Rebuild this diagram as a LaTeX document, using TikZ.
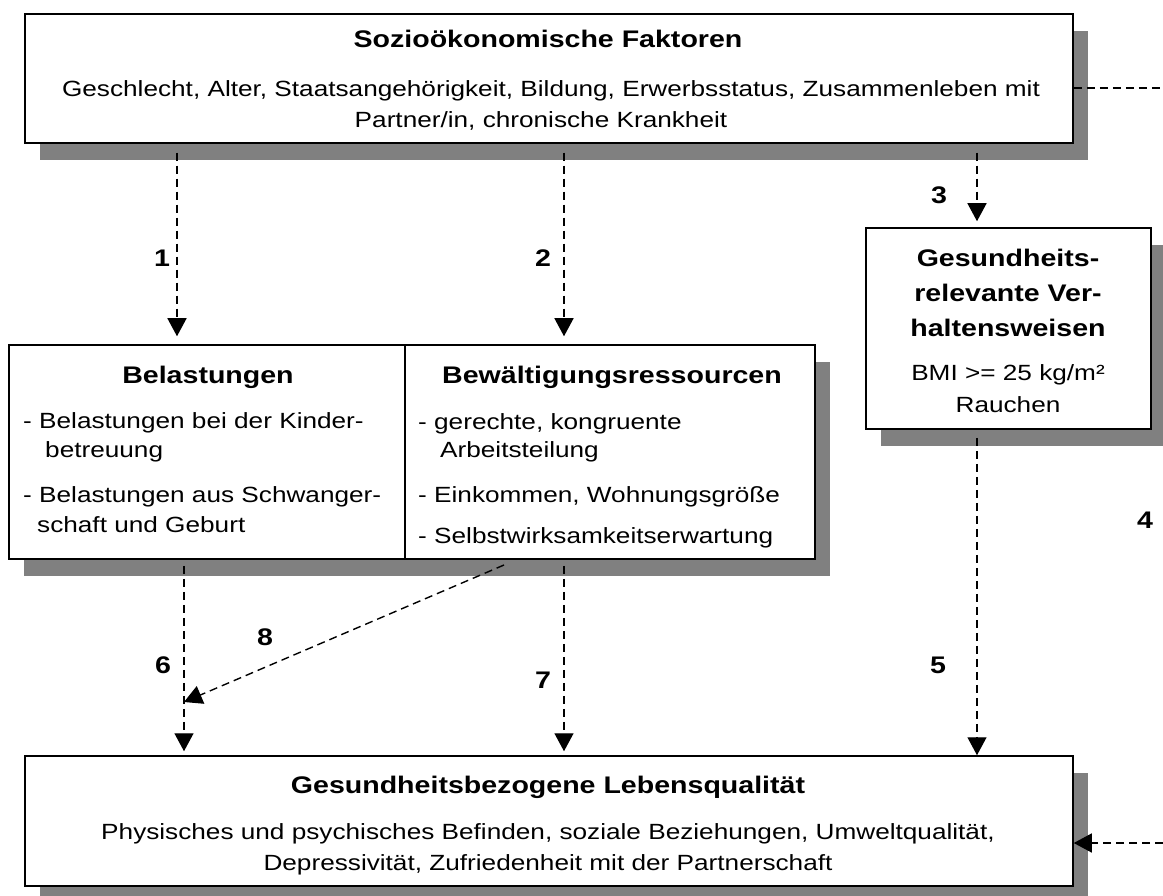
\documentclass[tikz,border=0pt]{standalone}
\usepackage{fontspec}
\setmainfont{Liberation Sans}[FakeStretch=1.19]
\usetikzlibrary{arrows.meta,shadows}
\definecolor{shgray}{RGB}{128,128,128}
\begin{document}
\begin{tikzpicture}[x=1pt,y=-1pt,
  box/.style={draw=black,line width=1.5pt,fill=white,inner sep=0pt,
    drop shadow={shadow xshift=15pt,shadow yshift=-17pt,fill=shgray,opacity=1}},
  body/.style={font=\fontsize{22}{26}\selectfont,inner sep=0pt,anchor=base},
  bodyl/.style={body,anchor=base west},
  ttl/.style={font=\fontsize{24}{28}\selectfont\bfseries,inner sep=0pt,anchor=base},
  num/.style={font=\fontsize{24}{28}\selectfont\bfseries,inner sep=0pt},
  link/.style={draw=black,line width=1.4pt,dash pattern=on 8pt off 5pt},
  arr/.style={link,-{Triangle[length=18pt,width=19pt]}},
]
\useasboundingbox (0,0) rectangle (1163,896);

% top box
\node[box,minimum width=1048pt,minimum height=129pt] (soz) at (549,78.5) {};
\node[ttl] (sozT) at (548,48) {Sozioökonomische Faktoren};
\node[body] (sozA) at (551,97) {Geschlecht, Alter, Staatsangehörigkeit, Bildung, Erwerbsstatus, Zusammenleben mit};
\node[body] (sozB) at (541,128) {Partner/in, chronische Krankheit};

% Belastungen
\node[box,minimum width=396pt,minimum height=214pt] (bel) at (207,452) {};
\node[ttl] (belT) at (208,383) {Belastungen};
\node[bodyl] (belA) at (23,428) {- Belastungen bei der Kinder-};
\node[bodyl] (belB) at (45,457) {betreuung};
\node[bodyl] (belC) at (23,502) {- Belastungen aus Schwanger-};
\node[bodyl] (belD) at (37,532) {schaft und Geburt};

% Bewaeltigungsressourcen
\node[box,minimum width=410pt,minimum height=214pt] (bew) at (610,452) {};
\node[ttl] (bewT) at (612,383) {Bewältigungsressourcen};
\node[bodyl] (bewA) at (418,429) {- gerechte, kongruente};
\node[bodyl] (bewB) at (440,457) {Arbeitsteilung};
\node[bodyl] (bewC) at (418,502) {- Einkommen, Wohnungsgröße};
\node[bodyl] (bewD) at (418,543) {- Selbstwirksamkeitserwartung};

% Gesundheitsrelevante Verhaltensweisen
\node[box,minimum width=285pt,minimum height=201pt] (ges) at (1008.5,328.5) {};
\node[ttl] (gesT1) at (1008,267) {Gesundheits-};
\node[ttl] (gesT2) at (1008,302) {relevante Ver-};
\node[ttl] (gesT3) at (1008,337) {haltensweisen};
\node[body] (gesA) at (1008,380) {BMI >= 25 kg/m²};
\node[body] (gesB) at (1008,412) {Rauchen};

% Lebensqualitaet
\node[box,minimum width=1048pt,minimum height=130pt] (lq) at (549,821) {};
\node[ttl] (lqT) at (548,793) {Gesundheitsbezogene Lebensqualität};
\node[body] (lqA) at (548,839) {Physisches und psychisches Befinden, soziale Beziehungen, Umweltqualität,};
\node[body] (lqB) at (548,870) {Depressivität, Zufriedenheit mit der Partnerschaft};

% connector columns
\coordinate (c1) at (177,0);
\coordinate (c2) at (564,0);
\coordinate (c3) at (977,0);
\coordinate (c6) at (184,0);
\coordinate (s8) at (504,565);
\coordinate (e8) at (184,702);
\coordinate (r4a) at (1163,88);
\coordinate (r4b) at (1163,843);

\draw[arr,shorten <=9pt,shorten >=8pt] (soz.south -| c1) -- (bel.north -| c1);
\draw[arr,shorten <=9pt,shorten >=8pt] (soz.south -| c2) -- (bew.north -| c2);
\draw[arr,shorten <=9pt,shorten >=6pt] (soz.south -| c3) -- (ges.north -| c3);
\draw[arr,shorten <=8pt] (ges.south -| c3) -- (lq.north -| c3);
\draw[arr,shorten <=6pt,shorten >=4pt] (bel.south -| c6) -- (lq.north -| c6);
\draw[arr,shorten <=6pt,shorten >=4pt] (bew.south -| c2) -- (lq.north -| c2);
\draw[arr] (s8) -- (e8);
\draw[link] (soz.east |- r4a) -- (r4a);
\draw[arr] (r4b) -- (lq.east |- r4b);

% labels
\node[num] (n1) at (162,258) {1};
\node[num] (n2) at (543,258) {2};
\node[num] (n3) at (939,195) {3};
\node[num] (n4) at (1145,520) {4};
\node[num] (n5) at (938,665) {5};
\node[num] (n6) at (163,665) {6};
\node[num] (n7) at (543,680) {7};
\node[num] (n8) at (265,637) {8};
\end{tikzpicture}
\end{document}
